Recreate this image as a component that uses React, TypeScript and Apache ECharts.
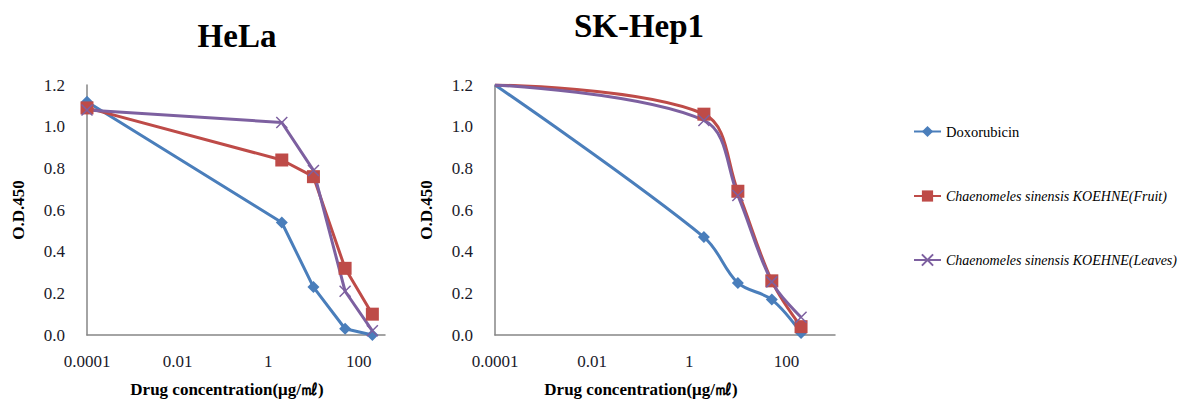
import React, { useEffect, useRef } from 'react';
import * as echarts from 'echarts';

// ---- data ----
const concentrations = [0.0001, 2, 10, 50, 200];
const seriesNames = [
  'Doxorubicin',
  'Chaenomeles sinensis KOEHNE(Fruit)',
  'Chaenomeles sinensis KOEHNE(Leaves)',
];
const panelTitles = ['HeLa', 'SK-Hep1'];

const helaDox = [1.12, 0.54, 0.23, 0.03, 0.0];
const helaFruit = [1.09, 0.84, 0.76, 0.32, 0.1];
const helaLeaves = [1.08, 1.02, 0.79, 0.21, 0.02];

const skDox = [1.2, 0.47, 0.25, 0.17, 0.01];
const skFruit = [1.2, 1.06, 0.69, 0.26, 0.04];
const skLeaves = [1.2, 1.03, 0.67, 0.255, 0.085];

const xTickExponents = [-4, -2, 0, 2];
const xTickLabels = ['0.0001', '0.01', '1', '100'];
const xMaxExponent = [2.58, 3];
const yMin = 0;
const yMax = 1.2;
const yStep = 0.2;

const xAxisName = 'Drug concentration(μg/㎖)';
const yAxisName = 'O.D.450';

// ---- styles ----
const FONT = "'Liberation Serif', 'Times New Roman', serif";
const colors = ['#4A7EBB', '#BE4B48', '#7D60A0'];
const symbols = ['diamond', 'rect', 'path://M0,0L10,10M10,0L0,10'];
const symbolSizes = [12, 13, 11];

function buildOption() {
  const panels = [
    [helaDox, helaFruit, helaLeaves],
    [skDox, skFruit, skLeaves],
  ];
  const grids = [
    { left: 87, top: 85, width: 298, height: 250 },
    { left: 495, top: 85, width: 340, height: 250 },
  ];
  const xNamePad = [[0, 18, 0, 0], [0, 48, 0, 0]];

  const xAxes = grids.map((_, i) => ({
    type: 'value',
    gridIndex: i,
    min: -4,
    max: xMaxExponent[i],
    interval: 2,
    splitLine: { show: false },
    axisTick: { show: false },
    axisLine: { show: true, onZero: false, lineStyle: { color: '#868686', width: 1.5 } },
    axisLabel: {
      margin: 18,
      fontFamily: FONT,
      fontSize: 17,
      color: '#1a1a2a',
      formatter: (v: number) => {
        const idx = xTickExponents.findIndex((e) => Math.abs(e - v) < 1e-9);
        return idx >= 0 ? xTickLabels[idx] : '';
      },
    },
    name: xAxisName,
    nameLocation: 'middle',
    nameGap: 46,
    nameTextStyle: {
      fontFamily: FONT,
      fontSize: 17,
      fontWeight: 'bold',
      color: '#000',
      padding: xNamePad[i],
    },
  }));

  const yAxes = grids.map((_, i) => ({
    type: 'value',
    gridIndex: i,
    min: yMin,
    max: yMax,
    interval: yStep,
    splitLine: { show: false },
    axisTick: { show: false },
    axisLine: { show: true, onZero: false, lineStyle: { color: '#868686', width: 1.5 } },
    axisLabel: {
      margin: 22,
      fontFamily: FONT,
      fontSize: 17,
      color: '#1a1a2a',
      formatter: (v: number) => v.toFixed(1),
    },
    name: yAxisName,
    nameLocation: 'middle',
    nameRotate: 90,
    nameGap: 60,
    nameTextStyle: {
      fontFamily: FONT,
      fontSize: 17,
      fontWeight: 'bold',
      color: '#000',
    },
  }));

  const series: any[] = [];
  panels.forEach((panel, p) => {
    panel.forEach((vals, s) => {
      series.push({
        type: 'line',
        name: seriesNames[s],
        xAxisIndex: p,
        yAxisIndex: p,
        smooth: p === 1 ? 0.35 : false,
        symbol: symbols[s],
        symbolSize: symbolSizes[s],
        showAllSymbol: true,
        lineStyle: { color: colors[s], width: 3 },
        itemStyle:
          s === 2
            ? { color: colors[s], borderColor: colors[s], borderWidth: 1.5 }
            : { color: colors[s] },
        emphasis: { disabled: true },
        data: vals.map((v, k) => {
          const item: any = { value: [Math.log10(concentrations[k]), v] };
          if (p === 1 && k === 0) item.symbol = 'none';
          return item;
        }),
      });
    });
  });

  return {
    animation: false,
    backgroundColor: '#fff',
    title: [
      {
        text: panelTitles[0],
        left: 232,
        top: 14,
        textAlign: 'center',
        textStyle: { fontFamily: FONT, fontSize: 33, fontWeight: 'bold', color: '#000' },
      },
      {
        text: panelTitles[1],
        left: 634,
        top: 4,
        textAlign: 'center',
        textStyle: { fontFamily: FONT, fontSize: 33, fontWeight: 'bold', color: '#000' },
      },
    ],
    legend: {
      orient: 'vertical',
      left: 908,
      top: 119,
      itemGap: 50,
      itemWidth: 27,
      itemHeight: 14,
      data: seriesNames,
      selectedMode: false,
      formatter: (name: string) => (name === seriesNames[0] ? `{r|${name}}` : `{it|${name}}`),
      textStyle: {
        fontFamily: FONT,
        fontSize: 14,
        color: '#000',
        rich: {
          r: { fontFamily: FONT, fontSize: 14.5, color: '#000' },
          it: { fontFamily: FONT, fontSize: 14, fontStyle: 'italic', color: '#000' },
        },
      },
    },
    grid: grids,
    xAxis: xAxes,
    yAxis: yAxes,
    series,
  };
}

export default function App() {
  const ref = useRef<HTMLDivElement>(null);
  useEffect(() => {
    if (!ref.current) return;
    const chart = echarts.init(ref.current, undefined, { renderer: 'svg' });
    chart.setOption(buildOption() as any);
    return () => chart.dispose();
  }, []);
  return (
    <div
      ref={ref}
      style={{ position: 'absolute', left: 0, top: 0, width: 1182, height: 406, background: '#fff' }}
    />
  );
}
